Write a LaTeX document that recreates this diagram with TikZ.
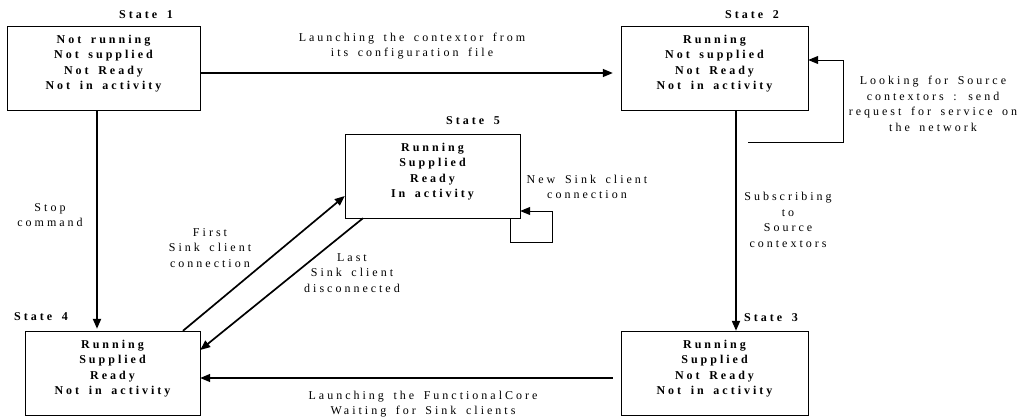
\documentclass[tikz,border=0pt]{standalone}
\usepackage{fontspec}
\setmainfont{Liberation Serif}
\newfontfamily\wide[LetterSpace=25,WordSpace=1.6]{Liberation Serif}
\usetikzlibrary{arrows.meta}

\begin{document}
\begin{tikzpicture}[x=1pt,y=-1pt]
  \tikzstyle{statebox} = [draw, thin, align=center, minimum height=84pt, inner sep=0pt, text depth=11pt, font=\wide\bfseries\fontsize{12}{15.5}\selectfont]
  \tikzstyle{title} = [font=\wide\bfseries\fontsize{12}{13}\selectfont]
  \tikzstyle{remark} = [align=center, font=\wide\fontsize{12}{15.5}\selectfont]
  \tikzstyle{trans} = [-{Triangle[length=10pt,width=8pt]}, line width=1.4pt]
  \tikzstyle{loopback} = [-{Triangle[length=10pt,width=8pt]}, line width=1pt]

  \useasboundingbox (0,0) rectangle (1024,418);

  % the five states
  \draw (103.5,68) node[statebox, minimum width=193pt] (s1) {Not running\\Not supplied\\Not Ready\\Not in activity};
  \draw (714.5,68) node[statebox, minimum width=187pt] (s2) {Running\\Not supplied\\Not Ready\\Not in activity};
  \draw (714.5,373) node[statebox, minimum width=187pt] (s3) {Running\\Supplied\\Not Ready\\Not in activity};
  \draw (112.5,373) node[statebox, minimum width=175pt] (s4) {Running\\Supplied\\Ready\\Not in activity};
  \draw (432.5,176) node[statebox, minimum width=175pt] (s5) {Running\\Supplied\\Ready\\In activity};

  \draw (146,15) node[title] (t1) {State 1};
  \draw (752,15) node[title] (t2) {State 2};
  \draw (771,318) node[title] (t3) {State 3};
  \draw (41,317) node[title] (t4) {State 4};
  \draw (473,121) node[title] (t5) {State 5};

  % transitions
  \draw [trans] ([yshift=-5pt]s1.east) -- ([yshift=-5pt,xshift=-8pt]s2.west);
  \draw (412,46) node[remark] (launch) {Launching the contextor from\\its configuration file};

  \draw [trans, line width=2pt, shorten >=2pt] ([xshift=-6.5pt]s1.south) -- ([xshift=-6.5pt]s1.south |- s4.north);
  \draw (50,215) node[remark] (stop) {Stop\\command};

  \draw [trans, line width=2pt] ([xshift=21.5pt]s2.south) -- ([xshift=21.5pt]s2.south |- s3.north);
  \draw (788,220) node[remark] (subscr) {Subscribing\\to\\Source\\contextors};

  \draw [trans] ([yshift=-5pt,xshift=-8pt]s3.west) -- ([yshift=-5pt]s3.west -| s4.east);
  \draw (423,404) node[remark] (core) {Launching the FunctionalCore\\Waiting for Sink clients};

  \draw [trans, line width=1.7pt] ([xshift=70.5pt]s4.north) -- ([yshift=-20pt]s5.west);
  \draw (210,248) node[remark] (first) {First\\Sink client\\connection};

  \draw [trans, line width=1.7pt] ([xshift=-69.5pt]s5.south) -- ([yshift=23pt]s4.east);
  \draw (352,273) node[remark] (last) {Last\\Sink client\\disconnected};

  % self loops
  \coordinate (open) at (748,142);
  \draw [loopback] (open) -- (843,142) |- ([yshift=8pt]s2.east);
  \draw (933,104) node[remark] (look) {Looking for Source\\contextors : send\\request for service on\\the network};

  \draw [loopback] ([xshift=77.5pt]s5.south) -- ++(0,24) -- ++(42,0) |- ([yshift=-35pt]s5.east);
  \draw (587,187) node[remark] (newsink) {New Sink client\\connection};
\end{tikzpicture}
\end{document}
